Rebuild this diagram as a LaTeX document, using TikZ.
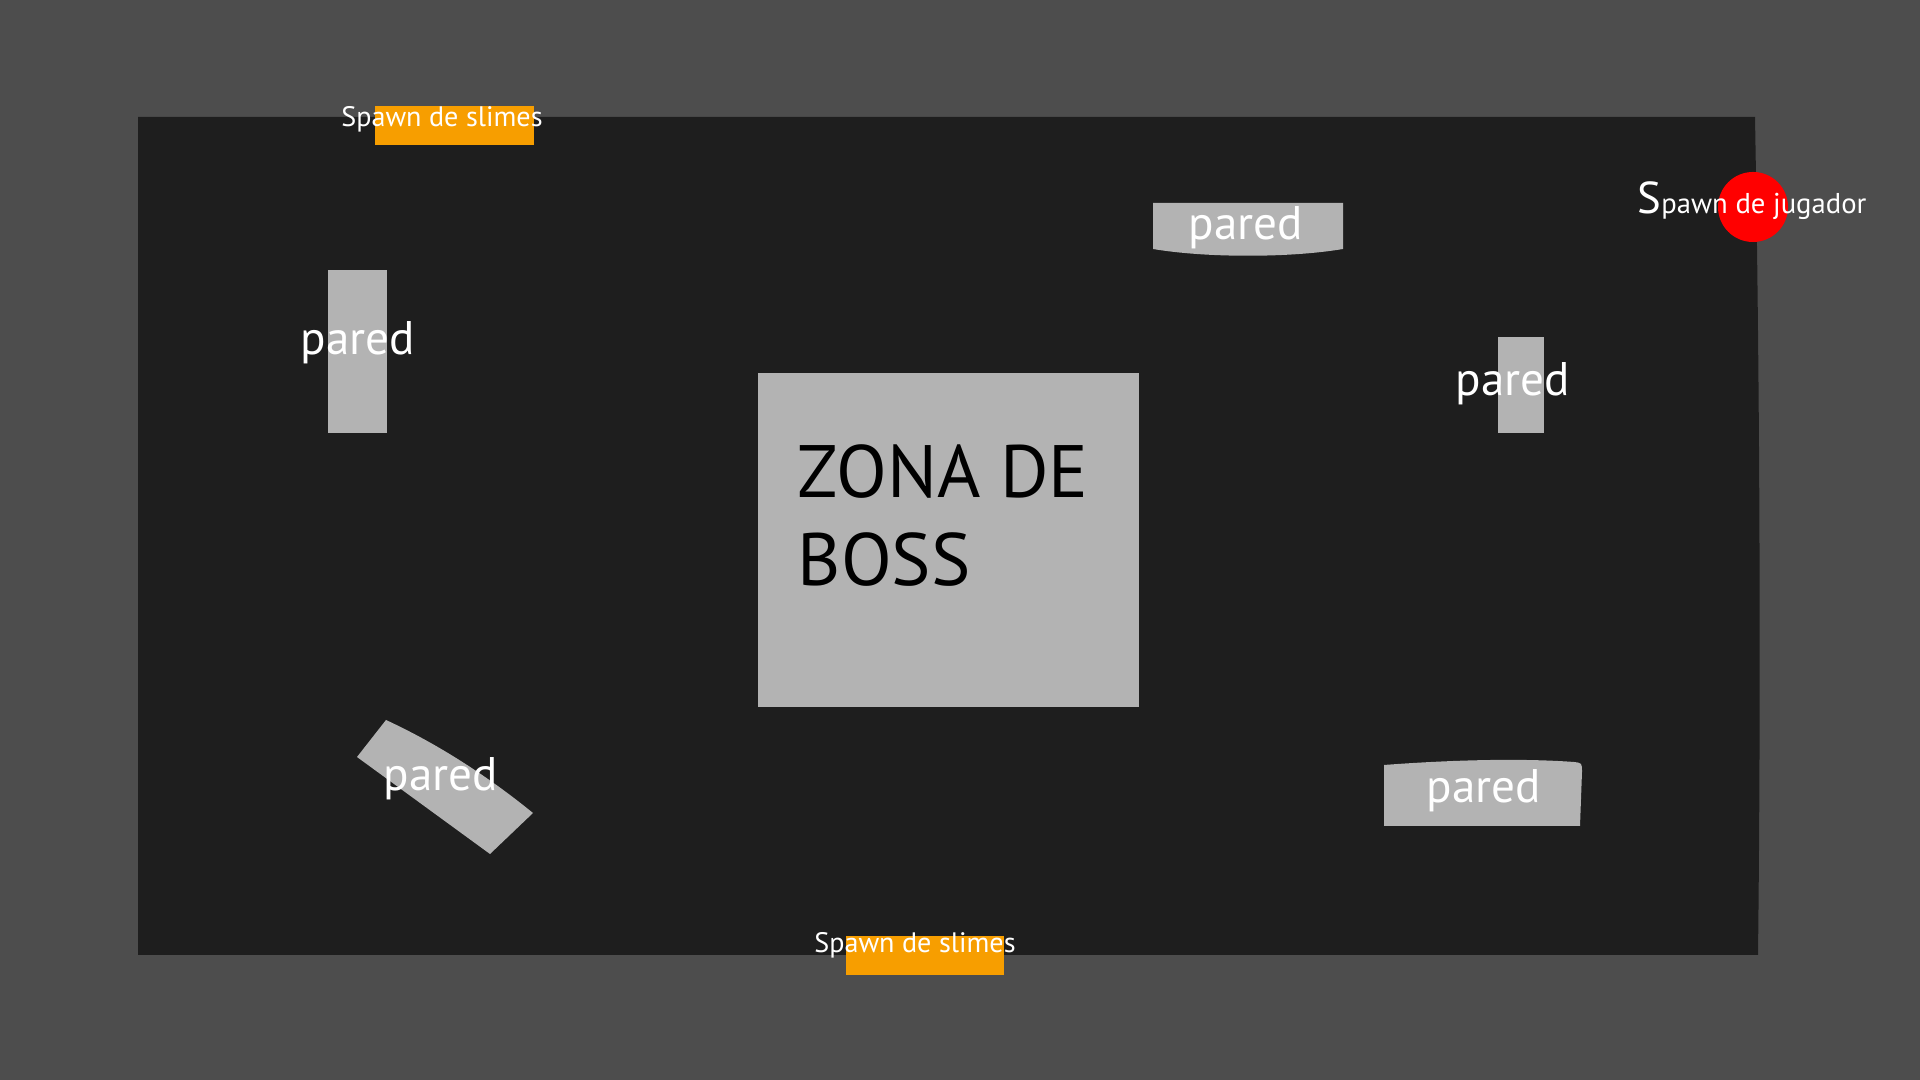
\documentclass[tikz,border=0pt]{standalone}
\usepackage{fontspec}
\setmainfont{PT Sans}
\usetikzlibrary{positioning}
\definecolor{FondoGris}{RGB}{77, 77, 77}
\definecolor{MapaNegro}{RGB}{30, 30, 30}
\definecolor{ParedGris}{RGB}{179, 179, 179}
\definecolor{SlimeNaranja}{RGB}{247, 158, 0}
\definecolor{JugadorRojo}{RGB}{255, 0, 0}

\begin{document}
\begin{tikzpicture}[x=0.01cm, y=-0.01cm,
    pared/.style={fill=ParedGris, inner sep=0pt},
    etiqueta/.style={text=white, anchor=base, inner sep=0pt, font=\fontsize{13.4}{16}\selectfont},
    spawnslime/.style={fill=SlimeNaranja, inner sep=0pt, minimum width=1.58cm, minimum height=0.39cm},
    textoslime/.style={text=white, anchor=base, inner sep=0pt, font=\fontsize{8}{10}\selectfont}]
    % Fondo y mapa
    \fill[FondoGris] (0,0) rectangle (1920,1080);
    \useasboundingbox (0,0) rectangle (1920,1080);
    \fill[MapaNegro] (138,117) -- (1755,117) .. controls (1760,400) and (1761,700) .. (1758,955) -- (138,955) -- cycle;

    % Zona de boss
    \node[pared, minimum width=3.81cm, minimum height=3.34cm] (zonaBoss) at (948.5,540) {};
    \node[align=left, anchor=base west, inner sep=0pt, font=\fontsize{21.1}{25.3}\selectfont] (textoBoss) at (797,586) {ZONA DE\\BOSS};

    % Paredes rectas
    \node[pared, minimum width=0.59cm, minimum height=1.63cm] (paredIzq) at (357.5,351.5) {};
    \node[etiqueta] (etqIzq) at (358,355) {pared};
    \node[pared, minimum width=0.46cm, minimum height=0.96cm] (paredDer) at (1521,385) {};
    \node[etiqueta] (etqDer) at (1513,396) {pared};

    % Paredes curvas
    \fill[ParedGris] (1153,203) -- (1343,203) -- (1343,249) .. controls (1290,258) and (1206,258) .. (1153,249) -- cycle;
    \node[etiqueta] (etqArriba) at (1246,240) {pared};
    \fill[ParedGris] (1384,765) .. controls (1450,760) and (1520,758) .. (1574,762) .. controls (1582,763) .. (1582,772) -- (1580,826) -- (1384,826) -- cycle;
    \node[etiqueta] (etqAbajo) at (1484,803) {pared};
    \fill[ParedGris] (386,720) .. controls (440,745) and (490,778) .. (533,813) -- (490,854) -- (357,757) -- cycle;
    \node[etiqueta] (etqDiag) at (441,791) {pared};

    % Spawns de slimes
    \node[spawnslime] (slimeArriba) at (454.5,125.5) {};
    \node[textoslime] (txtSlimeArriba) at (442,127) {Spawn de slimes};
    \node[spawnslime] (slimeAbajo) at (925,955.5) {};
    \node[textoslime] (txtSlimeAbajo) at (915,953) {Spawn de slimes};

    % Spawn de jugador
    \node[circle, fill=JugadorRojo, inner sep=0pt, minimum size=0.7cm] (jugador) at (1753,207) {};
    \node[text=white, anchor=base west, inner sep=0pt, font=\fontsize{8.15}{9}\selectfont] (txtJugador) at (1637,214) {{\fontsize{12.7}{14}\selectfont S}pawn de jugador};
\end{tikzpicture}
\end{document}
